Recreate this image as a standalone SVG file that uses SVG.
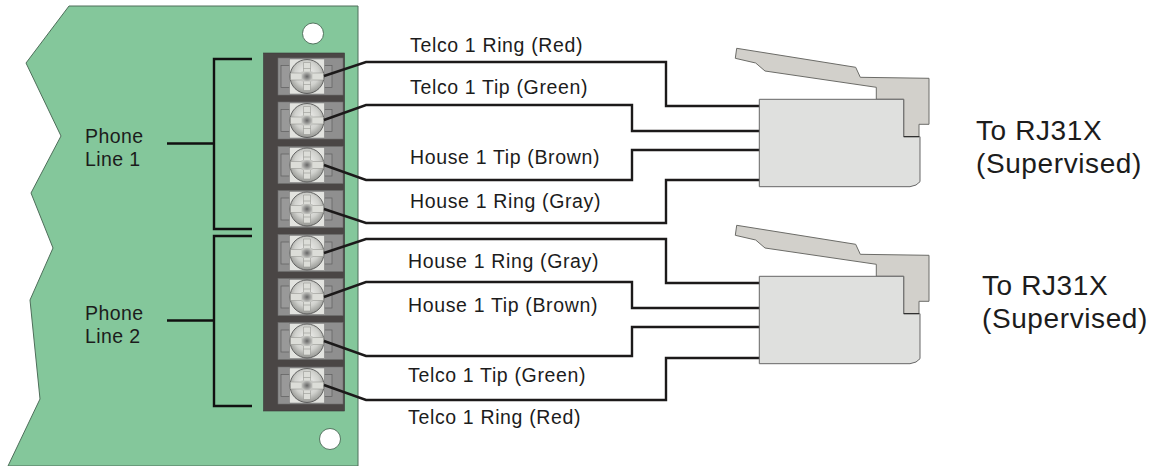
<svg xmlns="http://www.w3.org/2000/svg" xmlns:xlink="http://www.w3.org/1999/xlink" width="1152" height="466" viewBox="0 0 1152 466">
<style>
text{font-family:"Liberation Sans",Arial,sans-serif;fill:#1c1c1c}
.l{font-size:19.5px;letter-spacing:.65px}
.p{font-size:19.5px;letter-spacing:.4px}
.t{font-size:28px;letter-spacing:.6px}
.w{fill:none;stroke:#1c1a1a;stroke-width:2.4;stroke-linejoin:miter}
.b{fill:none;stroke:#111;stroke-width:2.4}
.hole{fill:#fff;stroke:#3c5a48;stroke-width:.8}
</style>
<defs>
<radialGradient id="sg" cx="50%" cy="42%" r="60%"><stop offset="0" stop-color="#f4f4f2"/><stop offset=".6" stop-color="#d0d1cd"/><stop offset="1" stop-color="#8f908c"/></radialGradient>
<radialGradient id="cg" cx="50%" cy="50%" r="50%"><stop offset="0" stop-color="#666"/><stop offset="1" stop-color="#c4c5c1"/></radialGradient>
<g id="term">
<rect x="278" y="-18.500" width="65" height="37" fill="#8f8f8f" stroke="#6e6e6e" stroke-width=".6"/>
<rect x="281" y="-11" width="9" height="22" fill="#999" stroke="#5e5e5e" stroke-width=".7"/>
<rect x="324" y="-11" width="8" height="22" fill="#999" stroke="#5e5e5e" stroke-width=".7"/>
<rect x="289.500" y="-17.500" width="35" height="35" fill="#e2e3df" stroke="#777" stroke-width=".5"/>
<circle cx="307" cy="0" r="17" fill="url(#sg)" stroke="#4a4a4a" stroke-width=".8"/>
<path d="M303.500-14h7v10.500h13v7h-13v10.500h-7v-10.500h-13v-7h13z" fill="#dcddd8" stroke="#8a8a86" stroke-width=".5"/>
<path d="M303.500-8h7M303.500 8h7" stroke="#8a8a86" stroke-width=".5" fill="none"/>
<rect x="301.500" y="-5" width="11" height="10" fill="url(#cg)"/>
</g>
<g id="plug">
<path d="M736.700 48.300L855.700 67.300L860.300 77.300L929 78.300V124.300H919V136.700H903.700V99.300H876.300V87.300L765 71L755.700 63L735.300 58.300Z" fill="#d2d0cb" stroke="#6c6c68" stroke-width="1"/>
<path d="M759.300 99.300H903.700V136.700H920V181.700L916 185L910 186.700H759.300Z" fill="#dfe0de" stroke="#666" stroke-width="1"/>
<path d="M903.700 136.700H919" stroke="#222" stroke-width="1"/>
</g>
</defs>
<g id="board">
<path d="M69 6H358V466H8L40 399L30 300L53 248L31 193L61 136L26 63Z" fill="#84c79b" stroke="#4e6e5a" stroke-width="1"/>
<circle class="hole" cx="313" cy="33.500" r="10.500"/>
<circle class="hole" cx="330" cy="439" r="10.500"/>
</g>
<g id="terminal-block">
<rect x="263.500" y="53" width="81" height="358" fill="#4a4645" stroke="#3a3a3a" stroke-width=".6"/>
<use xlink:href="#term" href="#term" y="76.500"/>
<use xlink:href="#term" href="#term" y="120.500"/>
<use xlink:href="#term" href="#term" y="165"/>
<use xlink:href="#term" href="#term" y="209"/>
<use xlink:href="#term" href="#term" y="253"/>
<use xlink:href="#term" href="#term" y="297"/>
<use xlink:href="#term" href="#term" y="341"/>
<use xlink:href="#term" href="#term" y="385.500"/>
</g>
<g id="connectors">
<path class="w" d="M324 76L366 62H666V106H760"/>
<path class="w" d="M324 120L366 105H632V131H760"/>
<path class="w" d="M324 165L366 180H632V150H760"/>
<path class="w" d="M324 209L366 223H666V180H760"/>
<path class="w" d="M324 253L366 239H666V283H760"/>
<path class="w" d="M324 297L366 282H632V308H760"/>
<path class="w" d="M324 341L366 356H632V327H760"/>
<path class="w" d="M324 385L366 400H666V358H760"/>
<path class="b" d="M252 59H214V229H252M167 143.500H214"/>
<path class="b" d="M252 236H214V406H252M167 320.500H214"/>
</g>
<g id="plug-1"><use xlink:href="#plug" href="#plug"/></g>
<g id="plug-2"><use xlink:href="#plug" href="#plug" y="177"/></g>
<g id="labels">
<text class="p" x="85" y="143">Phone</text>
<text class="p" x="85" y="166">Line 1</text>
<text class="p" x="85" y="320">Phone</text>
<text class="p" x="85" y="343">Line 2</text>
<text class="l" x="410" y="52">Telco 1 Ring (Red)</text>
<text class="l" x="410" y="94">Telco 1 Tip (Green)</text>
<text class="l" x="410" y="164">House 1 Tip (Brown)</text>
<text class="l" x="410" y="208">House 1 Ring (Gray)</text>
<text class="l" x="408" y="268">House 1 Ring (Gray)</text>
<text class="l" x="408" y="312">House 1 Tip (Brown)</text>
<text class="l" x="408" y="382">Telco 1 Tip (Green)</text>
<text class="l" x="408" y="424">Telco 1 Ring (Red)</text>
<text class="t" x="976" y="140">To RJ31X</text>
<text class="t" x="976" y="173">(Supervised)</text>
<text class="t" x="982" y="295">To RJ31X</text>
<text class="t" x="982" y="328">(Supervised)</text>
</g>
</svg>
